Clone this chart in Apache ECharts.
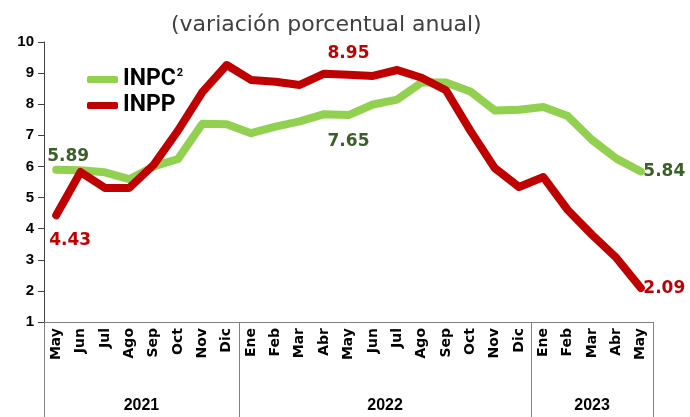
<!DOCTYPE html>
<html>
<head>
<meta charset="utf-8">
<script src="https://cdn.jsdelivr.net/npm/echarts@6/dist/echarts.min.js"></script>
<style>
  html, body {margin: 0; padding: 0; background: #fff;}
  #chart {width: 690px; height: 417px;}
</style>
</head>
<body>
<div id="chart"></div>
<script>
// meses (mayo 2021 - mayo 2023)
const months = ['May', 'Jun', 'Jul', 'Ago', 'Sep', 'Oct', 'Nov', 'Dic',
  'Ene', 'Feb', 'Mar', 'Abr', 'May', 'Jun', 'Jul', 'Ago', 'Sep', 'Oct', 'Nov', 'Dic',
  'Ene', 'Feb', 'Mar', 'Abr', 'May'];
const years = ['2021', '2022', '2023'];
const monthsPerYear = [8, 12, 5];

const inpc = [5.89, 5.88, 5.81, 5.59, 6.00, 6.24, 7.37, 7.36,
  7.07, 7.28, 7.45, 7.68, 7.65, 7.99, 8.15, 8.70, 8.70, 8.41, 7.80, 7.82,
  7.91, 7.62, 6.85, 6.25, 5.84];
const inpp = [4.43, 5.82, 5.31, 5.31, 6.05, 7.15, 8.39, 9.26,
  8.78, 8.72, 8.62, 8.98, 8.95, 8.91, 9.10, 8.85, 8.45, 7.15, 5.95, 5.34,
  5.66, 4.60, 3.80, 3.06, 2.09];

const yTicks = [1, 2, 3, 4, 5, 6, 7, 8, 9, 10];

// índices con etiqueta
const inpcLabels = {0: 'top', 12: 'bottom', 24: 'right'};
const inppLabels = {0: 'bottom', 12: 'top', 24: 'right'};

// separadores y centros de año
let acc = 0;
const yearBounds = [0];
const yearCenters = [];
monthsPerYear.forEach(n => {
  yearCenters.push(acc + n / 2);
  acc += n;
  yearBounds.push(acc);
});

function labelled(values, labels, color) {
  return values.map((v, i) => {
    if (!(i in labels)) return v;
    const pos = labels[i];
    const lab = {show: true, position: pos, color: color, fontSize: 17, fontWeight: 'bold',
      fontFamily: 'DejaVu Sans', formatter: v.toFixed(2)};
    if (i === 0) {
      lab.offset = pos === 'top' ? [12, 0] : [14, 0];
      lab.distance = pos === 'top' ? 4 : 16;
    } else if (pos === 'top') {
      lab.distance = 12;
    } else if (pos === 'bottom') {
      lab.distance = 17;
    } else {
      lab.distance = 2;
    }
    return {value: v, label: lab};
  });
}

const myChart = echarts.init(document.getElementById('chart'));
myChart.setOption({
  animation: false,
  title: {
    text: '(variación porcentual anual)',
    left: 166,
    top: 9,
    textStyle: {fontFamily: 'DejaVu Sans', fontSize: 22, fontWeight: 'normal', color: '#404040'}
  },
  legend: {
    orient: 'vertical',
    left: 82,
    top: 63,
    itemWidth: 31,
    itemHeight: 7,
    itemGap: 3,
    icon: 'roundRect',
    data: ['INPC', 'INPP'],
    formatter: name => name === 'INPC' ? '{b|INPC}{s|2}' : '{b|INPP}',
    textStyle: {
      rich: {
        b: {fontFamily: 'Roboto', fontSize: 23, fontWeight: 'bold', color: '#000'},
        s: {fontFamily: 'Roboto', fontSize: 11, fontWeight: 'bold', color: '#000', padding: [0, 0, 12, 1]}
      }
    }
  },
  grid: {left: 44, right: 37, top: 42, bottom: 95},
  xAxis: [{
    type: 'category',
    data: months,
    boundaryGap: true,
    axisLine: {lineStyle: {color: '#808080', width: 1}},
    axisTick: {show: false},
    axisLabel: {
      interval: 0,
      rotate: 90,
      margin: 6,
      color: '#000',
      fontFamily: 'DejaVu Sans',
      fontWeight: 'bold',
      fontSize: 14
    }
  }, {
    type: 'value',
    position: 'bottom',
    min: 0,
    max: months.length,
    axisLine: {show: false},
    splitLine: {show: false},
    axisTick: {
      show: true,
      customValues: yearBounds,
      length: 95,
      lineStyle: {color: '#808080', width: 1}
    },
    axisLabel: {
      customValues: yearCenters,
      margin: 76,
      color: '#000',
      fontFamily: 'Liberation Sans',
      fontWeight: 'bold',
      fontSize: 16,
      formatter: v => years[yearCenters.indexOf(v)] || ''
    }
  }],
  yAxis: {
    type: 'value',
    min: yTicks[0],
    max: yTicks[yTicks.length - 1],
    interval: 1,
    splitLine: {show: false},
    axisLine: {show: true, lineStyle: {color: '#404040', width: 1}},
    axisTick: {show: true, length: 6, lineStyle: {color: '#404040'}},
    axisLabel: {
      color: '#000',
      fontFamily: 'Liberation Sans',
      fontWeight: 'bold',
      fontSize: 15,
      margin: 10
    }
  },
  series: [{
    name: 'INPC',
    type: 'line',
    xAxisIndex: 0,
    symbol: 'circle',
    symbolSize: 1,
    showAllSymbol: true,
    color: '#92D050',
    lineStyle: {width: 8, color: '#92D050', cap: 'round', join: 'round'},
    data: labelled(inpc, inpcLabels, '#3A5F27'),
    z: 2
  }, {
    name: 'INPP',
    type: 'line',
    xAxisIndex: 0,
    symbol: 'circle',
    symbolSize: 1,
    showAllSymbol: true,
    color: '#C00000',
    lineStyle: {width: 8, color: '#C00000', cap: 'round', join: 'round'},
    data: labelled(inpp, inppLabels, '#C00000'),
    z: 3
  }]
});
</script>
</body>
</html>
